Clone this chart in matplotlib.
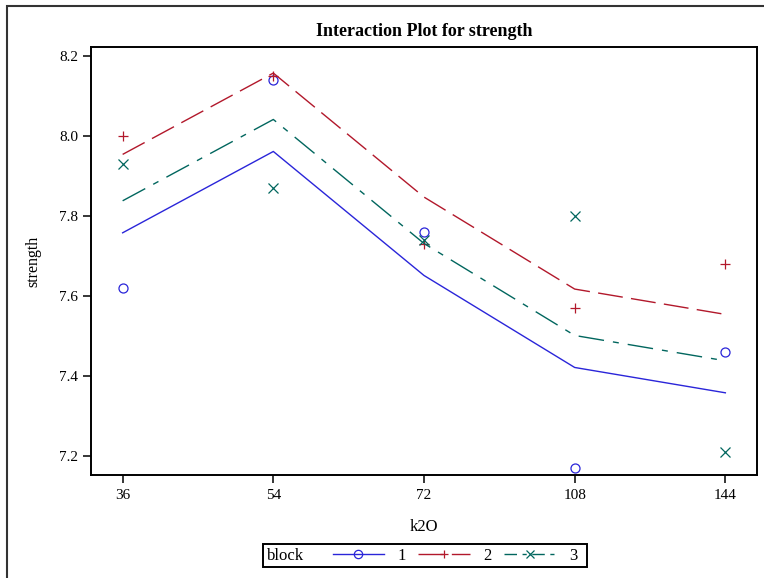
import numpy as np
import matplotlib
matplotlib.use("Agg")
import matplotlib.pyplot as plt
from matplotlib.lines import Line2D
from matplotlib.patches import Rectangle

plt.rcParams["font.family"] = ["Liberation Serif", "DejaVu Serif"]

# observed strength, rows = block, columns = k2O level
k2o_levels = ["36", "54", "72", "108", "144"]
blocks = ["1", "2", "3"]
block1 = [7.62, 8.14, 7.76, 7.17, 7.46]
block2 = [8.00, 8.15, 7.73, 7.57, 7.68]
block3 = [7.93, 7.87, 7.74, 7.80, 7.21]

obs = np.array([block1, block2, block3])
# additive (block + k2O) model fit, as drawn by the interaction plot
fit = obs.mean(axis=0)[None, :] + obs.mean(axis=1)[:, None] - obs.mean()

colors = ["#2A25D9", "#B2182B", "#01665E"]
markers = ["o", "+", "x"]
dashes = [None, (18, 6), (18.5, 6.5, 4.3, 6.5)]

fig = plt.figure(figsize=(7.64, 5.78), dpi=100)
ax = fig.add_axes([91 / 764, 1 - 475 / 578, (757 - 91) / 764, (475 - 47) / 578])

xpos = np.arange(len(k2o_levels))
for i in range(3):
    ax.plot(xpos, obs[i], linestyle="none", marker=markers[i],
            mfc="none", mec=colors[i], ms=6.5, mew=0.9, clip_on=False)
    ln, = ax.plot(xpos, fit[i], color=colors[i], lw=1.0)
    if dashes[i]:
        ln.set_dashes(dashes[i])

ax.set_xlim(-0.21, 4.21)
ax.set_ylim(7.1525, 8.2225)
ax.set_xticks(xpos)
ax.set_xticklabels(k2o_levels)
ax.set_yticks([7.2, 7.4, 7.6, 7.8, 8.0, 8.2])
ax.set_yticklabels(["7.2", "7.4", "7.6", "7.8", "8.0", "8.2"])
ax.tick_params(length=6, width=1.1, labelsize=11, pad=3, colors="black")
ax.tick_params(axis="x", pad=4)
for s in ax.spines.values():
    s.set_linewidth(1.4)

ax.set_xlabel("k2O", fontsize=12, labelpad=12)
ax.set_ylabel("strength", fontsize=11.5, labelpad=13)
fig.text(424 / 764, 1 - 31 / 578, "Interaction Plot for strength",
         ha="center", va="center", fontsize=13, fontweight="bold")

# legend: "block" label + three entries inside one frame
handles = []
for i in range(3):
    h = Line2D([], [], color=colors[i], lw=1.0, marker=markers[i],
               mfc="none", mec=colors[i], ms=6, mew=0.9)
    if dashes[i]:
        h.set_dashes((9, 4, 3, 4) if i == 2 else (18, 6))
    handles.append(h)
fig.legend(handles, blocks, ncol=3, loc="center",
           bbox_to_anchor=(455 / 764, 1 - 556 / 578), frameon=False,
           fontsize=12, handlelength=3.1, handletextpad=0.8,
           columnspacing=0.75, numpoints=1, borderpad=0)
fig.text(267 / 764, 1 - 556 / 578, "block", ha="left", va="center", fontsize=12)
fig.patches.append(Rectangle((263 / 764, 1 - 567 / 578), (587 - 263) / 764, 23 / 578,
                             transform=fig.transFigure, fill=False,
                             edgecolor="black", lw=1.4))

# outer frame
fig.patches.append(Rectangle((7 / 764, -0.05), 1.0, 1 - 6 / 578 + 0.05,
                             transform=fig.transFigure, fill=False,
                             edgecolor="#333333", lw=1.5))

fig.savefig("out.png", dpi=100)
